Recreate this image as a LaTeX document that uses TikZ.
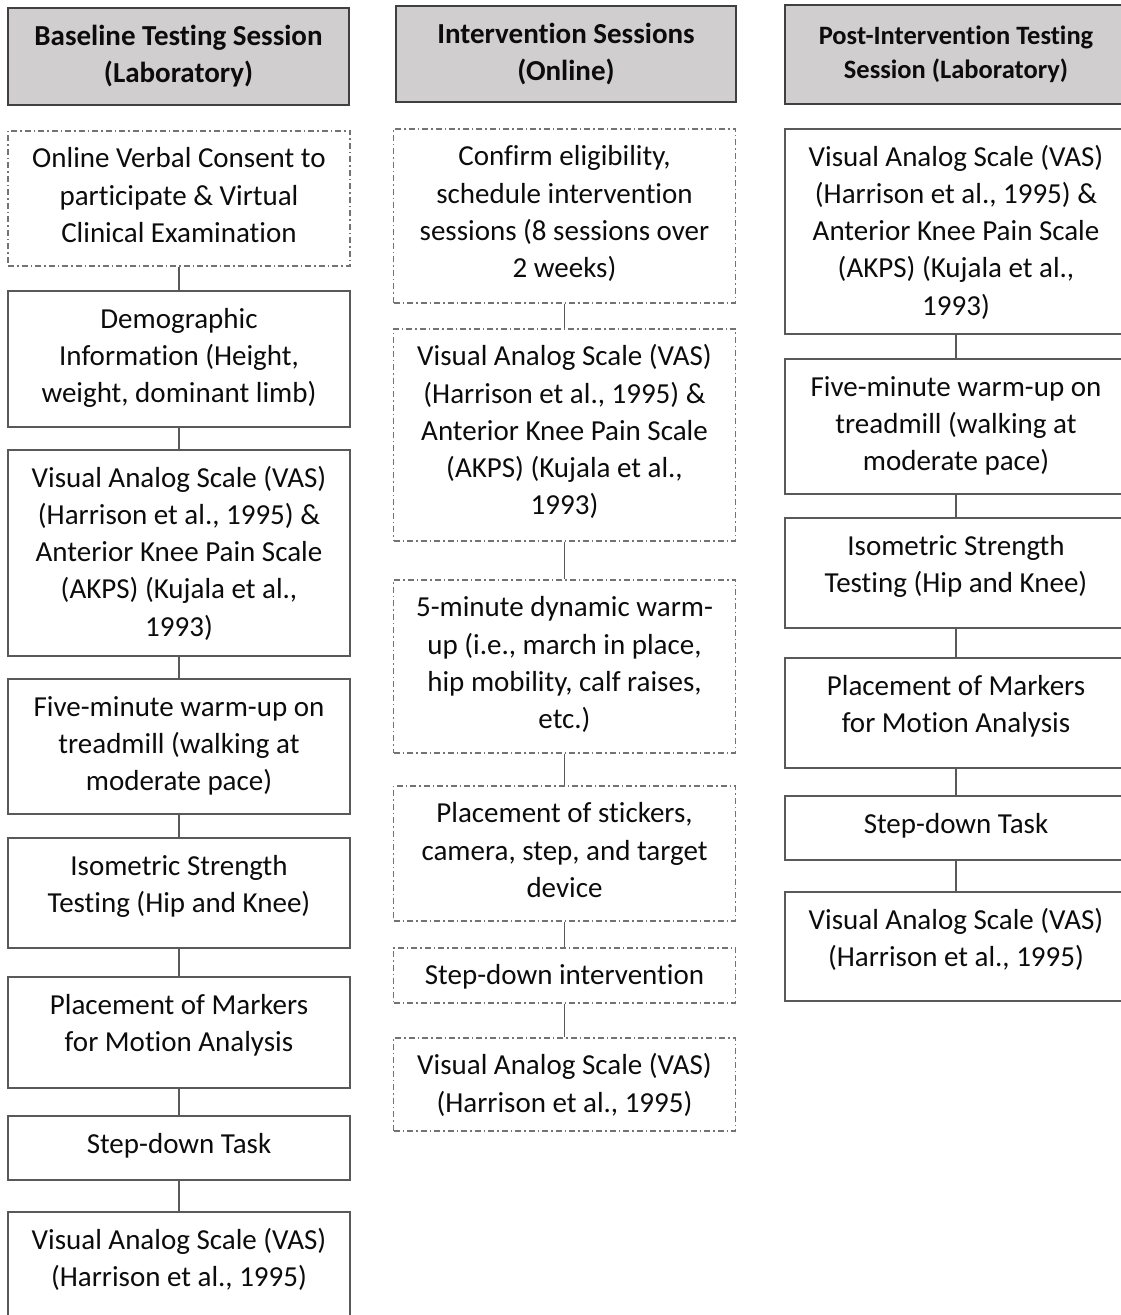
\documentclass[tikz,border=0pt]{standalone}
\usepackage{fontspec}
\setmainfont{Carlito}[Ligatures=NoCommon]
\definecolor{boxline}{RGB}{89,89,89}
\definecolor{dashline}{RGB}{115,115,115}
\definecolor{headfill}{RGB}{208,206,206}
\definecolor{headline}{RGB}{64,64,64}
\definecolor{textcol}{RGB}{12,12,12}
\newcommand{\bodyfont}{\fontsize{29pt}{37.3pt}\selectfont}
\newcommand{\headfont}{\bfseries\fontsize{29pt}{37pt}\selectfont}
\newcommand{\smallheadfont}{\bfseries\fontsize{26.5pt}{34pt}\selectfont}
\tikzset{
  boxh/.store in=\stepboxh, boxh=100pt,
  boxw/.store in=\stepboxw, boxw=342pt,
  stepbox/.style={draw=boxline, line width=2pt, anchor=north, inner sep=0pt, text=textcol,
    execute at begin node={\begin{minipage}[c][\stepboxh][t]{\stepboxw}\centering\bodyfont\rule{0pt}{37pt}},
    execute at end node={\end{minipage}}},
  onlinebox/.style={stepbox, draw=dashline, line width=1.5pt, dash pattern=on 6pt off 3pt on 1.5pt off 3pt},
  headbox/.style={draw=headline, fill=headfill, line width=2pt, inner sep=0pt, text=textcol,
    minimum width=341pt, minimum height=97pt, align=center, font=\headfont},
  link/.style={draw=boxline, line width=1.6pt},
}

\begin{document}
\begin{tikzpicture}[x=1pt, y=-1pt]
			%%%%% START %%%%%
			\useasboundingbox (0,0) rectangle (1121,1315);
			\clip (0,0) rectangle (1121,1315);
			
			% baseline session
			\node[headbox] (lhead) at (178.5,56.5) {Baseline Testing Session\\(Laboratory)};
			\node[onlinebox, boxh=135pt] (l1) at (179,130) {Online Verbal Consent to\\participate \& Virtual\\Clinical Examination};
			\node[stepbox, boxh=136pt] (l2) at (179,290) {Demographic\\Information (Height,\\weight, dominant limb)};
			\node[stepbox, boxh=206pt] (l3) at (179,449) {Visual Analog Scale (VAS)\\(Harrison et al., 1995) \&\\Anterior Knee Pain Scale\\(AKPS) (Kujala et al.,\\1993)};
			\node[stepbox, boxh=135pt] (l4) at (179,678) {Five-minute warm-up on\\treadmill (walking at\\moderate pace)};
			\node[stepbox, boxh=110pt] (l5) at (179,837) {Isometric Strength\\Testing (Hip and Knee)};
			\node[stepbox, boxh=111pt] (l6) at (179,976) {Placement of Markers\\for Motion Analysis};
			\node[stepbox, boxh=64pt] (l7) at (179,1115) {Step-down Task};
			\node[stepbox, boxh=130pt] (l8) at (179,1211) {Visual Analog Scale (VAS)\\(Harrison et al., 1995)};
			
			\draw[link] (l1.south) -- (l2.north);
			\draw[link] (l2.south) -- (l3.north);
			\draw[link] (l3.south) -- (l4.north);
			\draw[link] (l4.south) -- (l5.north);
			\draw[link] (l5.south) -- (l6.north);
			\draw[link] (l6.south) -- (l7.north);
			\draw[link] (l7.south) -- (l8.north);
			
			% intervention sessions
			\node[headbox, minimum width=340pt, minimum height=96pt] (mhead) at (566,54) {Intervention Sessions\\(Online)};
			\node[onlinebox, boxh=174pt] (m1) at (564.5,128) {Confirm eligibility,\\schedule intervention\\sessions (8 sessions over\\2 weeks)};
			\node[onlinebox, boxh=212pt] (m2) at (564.5,328) {Visual Analog Scale (VAS)\\(Harrison et al., 1995) \&\\Anterior Knee Pain Scale\\(AKPS) (Kujala et al.,\\1993)};
			\node[onlinebox, boxh=173pt] (m3) at (564.5,579) {5-minute dynamic warm-\\up (i.e., march in place,\\hip mobility, calf raises,\\etc.)};
			\node[onlinebox, boxh=135pt] (m4) at (564.5,785) {Placement of stickers,\\camera, step, and target\\device};
			\node[onlinebox, boxh=55pt] (m5) at (564.5,947) {Step-down intervention};
			\node[onlinebox, boxh=93pt] (m6) at (564.5,1037) {Visual Analog Scale (VAS)\\(Harrison et al., 1995)};
			
			\draw[link] (m1.south) -- (m2.north);
			\draw[link] (m2.south) -- (m3.north);
			\draw[link] (m3.south) -- (m4.north);
			\draw[link] (m4.south) -- (m5.north);
			\draw[link] (m5.south) -- (m6.north);
			
			% post-intervention session
			\node[headbox, font=\smallheadfont, minimum width=342pt, minimum height=99pt] (rhead) at (956,54.5) {Post-Intervention Testing\\Session (Laboratory)};
			\node[stepbox, boxh=205pt] (r1) at (956,128) {Visual Analog Scale (VAS)\\(Harrison et al., 1995) \&\\Anterior Knee Pain Scale\\(AKPS) (Kujala et al.,\\1993)};
			\node[stepbox, boxh=135pt] (r2) at (956,358) {Five-minute warm-up on\\treadmill (walking at\\moderate pace)};
			\node[stepbox, boxh=110pt] (r3) at (956,517) {Isometric Strength\\Testing (Hip and Knee)};
			\node[stepbox, boxh=110pt] (r4) at (956,657) {Placement of Markers\\for Motion Analysis};
			\node[stepbox, boxh=64pt] (r5) at (956,795) {Step-down Task};
			\node[stepbox, boxh=109pt] (r6) at (956,891) {Visual Analog Scale (VAS)\\(Harrison et al., 1995)};
			
			\draw[link] (r1.south) -- (r2.north);
			\draw[link] (r2.south) -- (r3.north);
			\draw[link] (r3.south) -- (r4.north);
			\draw[link] (r4.south) -- (r5.north);
			\draw[link] (r5.south) -- (r6.north);
			
			%%%%% END %%%%%
\end{tikzpicture}
\end{document}
